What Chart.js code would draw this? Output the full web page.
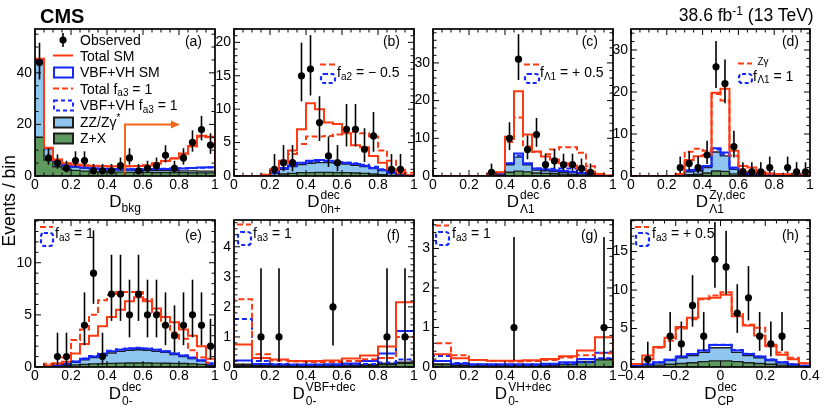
<!DOCTYPE html>
<html><head><meta charset="utf-8">
<script src="https://cdn.jsdelivr.net/npm/chart.js@4.4.1/dist/chart.umd.min.js"></script>
<style>
html,body{margin:0;padding:0;background:#fff}
body{width:830px;height:412px;position:relative;overflow:hidden;font-family:"Liberation Sans",Arial,Helvetica,sans-serif;color:#000}
canvas{position:absolute}
.tx{position:absolute;white-space:pre;z-index:5;font-family:"Liberation Sans",Arial,sans-serif}
</style></head><body>
<script>
// ---------------- DATA ----------------
// (a) D_bkg : 20 bins in [0,1]
const aObs    = [44,7,5,3,6,6,2,2,2,4,7,2,3,4,8,3,7,13,18,12];
const aZX     = [15,6.2,3.6,2.6,2.2,1.9,1.7,1.6,1.5,1.5,1.4,1.4,1.4,1.3,1.3,1.3,1.3,1.2,1.2,1.2];
const aZZ     = [44.8,10.6,5.8,4.1,3.5,3.1,2.8,2.6,2.5,2.4,2.3,2.2,2.2,2.1,2.1,2.0,2.0,2.0,1.9,1.9];
const aVBF    = [45.0,10.8,6.0,4.3,3.7,3.3,3.0,2.8,2.7,2.6,2.6,2.6,2.6,2.7,2.7,2.8,2.9,3.1,3.3,3.4];
const aTot    = [45.5,11.0,6.4,4.9,4.5,4.2,4.0,3.9,3.8,3.8,3.8,3.9,4.1,4.8,5.8,6.8,8.6,11.6,15.6,15.2];
const aTotAlt = [45.4,10.9,6.3,4.8,4.4,4.1,3.9,3.8,3.7,3.7,3.8,3.9,4.2,4.9,5.9,6.9,8.7,11.4,15.2,15.0];
const aVBFAlt = [45.0,10.8,6.0,4.3,3.7,3.3,3.0,2.8,2.7,2.6,2.6,2.6,2.7,2.8,2.8,2.9,3.0,3.1,3.2,3.3];
const aCutArrow = [0.5, 20, 0.805];
// (b) D^dec_0h+
const bObs    = [0,0,0,0,1,2,2,15,16,8,3,2,7,7,4,6,0,1,1,0];
const bZX     = [0,0,0,0,0.1,0.3,0.4,0.5,0.5,0.55,0.55,0.5,0.5,0.45,0.4,0.3,0.2,0.1,0.05,0];
const bZZ     = [0,0,0,0.02,0.4,1.0,1.4,1.7,1.9,2.0,2.0,1.9,1.8,1.6,1.4,1.1,0.8,0.45,0.2,0.05];
const bVBF    = [0,0,0,0.03,0.5,1.2,1.6,2.0,2.3,2.4,2.3,2.1,2.0,1.8,1.55,1.2,0.9,0.5,0.22,0.06];
const bTot    = [0,0,0,0.2,1.0,2.3,3.8,7.0,10.9,10.0,8.0,7.8,6.4,4.6,4.3,3.0,2.0,1.0,0.4,0.1];
const bTotAlt = [0,0,0,0.2,0.9,2.0,3.3,4.8,5.9,5.9,6.0,6.2,6.5,6.6,6.4,5.9,3.8,2.3,1.2,0.5];
const bVBFAlt = [0,0,0,0.03,0.45,1.1,1.5,1.9,2.1,2.2,2.2,2.1,2.0,1.9,1.7,1.4,1.0,0.6,0.3,0.08];
// (c) D^dec_Lambda1
const cObs    = [0,0,0,0,0,0,1,0,10,31,7,11,3,4,3,3,2,1,0,0];
const cZX     = [0,0,0,0,0,0,0.1,0.3,1.0,1.3,1.1,0.8,0.7,0.6,0.5,0.4,0.3,0.15,0.05,0];
const cZZ     = [0,0,0,0,0,0,0.2,0.6,3.0,5.0,3.0,1.6,1.4,1.2,1.0,0.9,0.7,0.4,0.15,0.02];
const cVBF    = [0,0,0,0,0,0,0.25,0.7,3.4,6.0,3.4,2.0,1.7,1.5,1.3,1.1,0.8,0.45,0.18,0.03];
const cTot    = [0,0,0,0,0,0,0.6,1.0,10.4,22.5,11.0,6.5,5.2,4.4,3.4,2.8,2.0,1.2,0.5,0.1];
const cTotAlt = [0,0,0,0,0,0,0.5,0.9,9.0,15.5,7.8,6.4,5.8,7.0,7.6,7.6,6.2,2.6,0.6,0.1];
const cVBFAlt = [0,0,0,0,0,0,0.25,0.7,3.3,5.4,3.2,2.0,1.8,1.9,2.0,2.0,1.6,0.6,0.2,0.03];
// (d) D^{Zgamma,dec}_Lambda1
const dObs    = [0,0,0,0,0,2,3,2,5,26,22,7,1,1,1,2,0,2,1,1];
const dZX     = [0,0,0,0,0,0.1,0.3,0.4,0.7,1.2,1.1,0.5,0.3,0.2,0.15,0.1,0.1,0.1,0.1,0.05];
const dZZ     = [0,0,0,0,0,0.2,1.0,1.2,2.0,5.7,4.8,1.6,0.7,0.5,0.35,0.3,0.25,0.2,0.2,0.1];
const dVBF    = [0,0,0,0,0,0.25,1.3,1.5,2.4,6.6,5.6,2.0,0.9,0.6,0.45,0.35,0.3,0.25,0.22,0.12];
const dTot    = [0,0,0,0,0,0.5,3.8,4.7,5.0,19.8,20.8,6.0,2.4,2.0,1.0,0.6,0.5,0.4,0.3,0.2];
const dTotAlt = [0,0,0,0,0,0.5,5.8,6.5,6.0,19.5,18.0,4.8,1.6,1.1,0.8,0.5,0.4,0.35,0.3,0.2];
const dVBFAlt = [0,0,0,0,0,0.25,1.4,1.6,2.3,6.3,5.2,1.8,0.8,0.55,0.4,0.33,0.28,0.23,0.2,0.1];
// (e) D^dec_0-
const eObs    = [0,0,1,1,0,4,9,1,7,7,5,7,5,5,4,3,4,5,4,2];
const eZX     = [0,0.05,0.1,0.15,0.2,0.25,0.3,0.32,0.35,0.37,0.38,0.38,0.38,0.37,0.36,0.35,0.33,0.3,0.25,0.15];
const eZZ     = [0,0.05,0.15,0.25,0.45,0.7,0.9,1.1,1.35,1.5,1.6,1.65,1.6,1.5,1.4,1.2,1.0,0.8,0.6,0.3];
const eVBF    = [0,0.06,0.17,0.3,0.52,0.8,1.0,1.25,1.5,1.65,1.75,1.8,1.75,1.65,1.5,1.3,1.1,0.9,0.65,0.35];
const eTot    = [0,0.15,0.3,0.5,1.3,2.2,3.0,3.9,4.8,5.5,6.3,6.7,6.3,5.6,4.8,4.3,3.6,3.0,2.0,0.8];
const eTotAlt = [0,0.3,0.35,0.9,2.6,3.6,5.0,6.4,6.9,7.2,7.2,7.2,6.5,5.2,4.1,3.3,2.7,1.6,0.9,0.4];
const eVBFAlt = [0,0.06,0.17,0.3,0.52,0.82,1.05,1.3,1.55,1.7,1.8,1.85,1.78,1.65,1.5,1.3,1.1,0.85,0.6,0.3];
// (f) D^{VBF+dec}_0- : 10 bins
const fObs    = [0,1,1,0,0,2,0,0,1,1];
const fZX     = [0.05,0.03,0.03,0.03,0.03,0.03,0.04,0.05,0.08,0.12];
const fZZ     = [0.09,0.05,0.05,0.05,0.05,0.05,0.06,0.08,0.12,0.16];
const fVBF    = [0.22,0.1,0.08,0.08,0.08,0.09,0.12,0.2,0.45,1.2];
const fTot    = [0.75,0.3,0.25,0.2,0.2,0.22,0.28,0.38,0.68,2.15];
const fTotAlt = [2.25,0.42,0.22,0.18,0.17,0.17,0.2,0.26,0.3,1.0];
const fVBFAlt = [1.6,0.2,0.1,0.07,0.07,0.07,0.08,0.1,0.15,0.25];
// (g) D^{VH+dec}_0- : 10 bins
const gObs    = [0,0,0,0,1,0,0,0,0,1];
const gZX     = [0.06,0.04,0.03,0.03,0.03,0.03,0.04,0.06,0.12,0.18];
const gZZ     = [0.08,0.05,0.04,0.04,0.04,0.04,0.05,0.07,0.14,0.2];
const gVBF    = [0.15,0.08,0.07,0.07,0.07,0.07,0.08,0.12,0.2,0.36];
const gTot    = [0.32,0.22,0.18,0.16,0.16,0.17,0.2,0.27,0.42,0.75];
const gTotAlt = [0.6,0.3,0.18,0.15,0.14,0.15,0.18,0.24,0.3,0.35];
const gVBFAlt = [0.28,0.1,0.06,0.05,0.05,0.05,0.06,0.08,0.12,0.22];
// (h) D^dec_CP : 16 bins in [-0.4,0.4]
const hObs    = [0,1,0,4,3,8,4,14,13,7,9,4,3,4,0,0];
const hZX     = [0.05,0.15,0.25,0.35,0.45,0.55,0.7,0.8,0.8,0.7,0.55,0.45,0.35,0.25,0.15,0.05];
const hZZ     = [0.15,0.3,0.55,0.85,1.2,1.5,1.9,2.5,2.5,1.9,1.5,1.2,0.85,0.55,0.3,0.15];
const hVBF    = [0.17,0.35,0.62,0.95,1.35,1.7,2.15,2.85,2.85,2.15,1.7,1.35,0.95,0.62,0.35,0.17];
const hTot    = [0.4,1.5,2.6,3.8,5.2,6.4,8.9,9.0,9.4,6.6,5.4,4.1,2.7,1.6,1.0,0.5];
const hTotAlt = [0.4,1.0,2.5,3.4,5.0,6.2,8.8,9.3,9.7,6.9,5.5,5.1,2.9,1.9,1.2,0.5];
const hVBFAlt = [0.17,0.35,0.62,0.95,1.35,1.7,2.15,2.9,2.9,2.2,1.72,1.37,0.96,0.63,0.36,0.17];

// tick values / labels
const xTicks01 = [0,0.2,0.4,0.6,0.8,1];
const xLabels01 = ['0','0.2','0.4','0.6','0.8','1'];
const xTicksCP = [-0.4,-0.2,0,0.2,0.4];
const xLabelsCP = ['\u22120.4','\u22120.2','0','0.2','0.4'];
const yTicksA = [0,20,40], yTicksB = [0,5,10,15,20], yTicksC = [0,10,20,30], yTicksD = [0,10,20,30];
const yTicksE = [0,5,10], yTicksF = [0,1,2,3,4], yTicksG = [0,1,2,3], yTicksH = [0,5,10,15];

// ---------------- STYLE ----------------
const FONT = '"Liberation Sans", Arial, sans-serif';
const RED='#ff3a12', BLUE='#1428ff', LBLUE='#8ec6f0', GREEN='#5e9a5e', EDGE='#1e1e1e', ORANGE='#f4661b';

const panels = [
 {left:35, top:29, w:180, h:147, xMin:0, xMax:1, yMax:57,   xT:xTicks01, xL:xLabels01, yT:yTicksA, xMinor:0.05, yMinor:5,
  obs:aObs, zx:aZX, zz:aZZ, vbf:aVBF, tot:aTot, totAlt:aTotAlt, vbfAlt:aVBFAlt, arrow:aCutArrow},
 {left:234, top:29, w:180, h:147, xMin:0, xMax:1, yMax:22,  xT:xTicks01, xL:xLabels01, yT:yTicksB, xMinor:0.05, yMinor:1,
  obs:bObs, zx:bZX, zz:bZZ, vbf:bVBF, tot:bTot, totAlt:bTotAlt, vbfAlt:bVBFAlt},
 {left:433, top:29, w:180, h:147, xMin:0, xMax:1, yMax:39,  xT:xTicks01, xL:xLabels01, yT:yTicksC, xMinor:0.05, yMinor:2,
  obs:cObs, zx:cZX, zz:cZZ, vbf:cVBF, tot:cTot, totAlt:cTotAlt, vbfAlt:cVBFAlt},
 {left:631, top:29, w:179, h:147, xMin:0, xMax:1, yMax:35,  xT:xTicks01, xL:xLabels01, yT:yTicksD, xMinor:0.05, yMinor:2,
  obs:dObs, zx:dZX, zz:dZZ, vbf:dVBF, tot:dTot, totAlt:dTotAlt, vbfAlt:dVBFAlt},
 {left:35, top:220, w:180, h:147, xMin:0, xMax:1, yMax:14.1, xT:xTicks01, xL:xLabels01, yT:yTicksE, xMinor:0.05, yMinor:1,
  obs:eObs, zx:eZX, zz:eZZ, vbf:eVBF, tot:eTot, totAlt:eTotAlt, vbfAlt:eVBFAlt},
 {left:234, top:220, w:180, h:147, xMin:0, xMax:1, yMax:4.89, xT:xTicks01, xL:xLabels01, yT:yTicksF, xMinor:0.05, yMinor:0.2,
  obs:fObs, zx:fZX, zz:fZZ, vbf:fVBF, tot:fTot, totAlt:fTotAlt, vbfAlt:fVBFAlt},
 {left:433, top:220, w:180, h:147, xMin:0, xMax:1, yMax:3.72, xT:xTicks01, xL:xLabels01, yT:yTicksG, xMinor:0.05, yMinor:0.2,
  obs:gObs, zx:gZX, zz:gZZ, vbf:gVBF, tot:gTot, totAlt:gTotAlt, vbfAlt:gVBFAlt},
 {left:631, top:220, w:179, h:147, xMin:-0.4, xMax:0.4, yMax:19.1, xT:xTicksCP, xL:xLabelsCP, yT:yTicksH, xMinor:0.05, yMinor:1,
  obs:hObs, zx:hZX, zz:hZZ, vbf:hVBF, tot:hTot, totAlt:hTotAlt, vbfAlt:hVBFAlt}
];

function garwood(n){
  const lo = n*Math.pow(1-1/(9*n)-1/(3*Math.sqrt(n)),3);
  const m = n+1;
  const hi = m*Math.pow(1-1/(9*m)+1/(3*Math.sqrt(m)),3);
  return [lo,hi];
}

function makePanel(p){
  const cv=document.createElement('canvas');
  const W=p.w+48, H=p.h+28;
  cv.width=W; cv.height=H;
  cv.style.left=(p.left-34)+'px'; cv.style.top=(p.top-8)+'px';
  cv.style.width=W+'px'; cv.style.height=H+'px';
  document.body.appendChild(cv);
  const n=p.obs.length, bw=(p.xMax-p.xMin)/n;
  const edges=[]; for(let i=0;i<=n;i++) edges.push(+(p.xMin+i*bw).toFixed(6));
  const hist=v=>{const pts=[{x:edges[0],y:0}]; v.forEach((y,i)=>{pts.push({x:edges[i],y});pts.push({x:edges[i+1],y});}); pts.push({x:edges[n],y:0}); return pts;};
  const obsPts=[]; p.obs.forEach((c,i)=>{ if(c>0) obsPts.push({x:(edges[i]+edges[i+1])/2, y:c}); });
  const line=(data,color,width,dash,order,fill)=>({data, borderColor:color, borderWidth:width, borderDash:dash||[],
      pointRadius:0, tension:0, order, fill:fill?{target:'origin'}:false, backgroundColor:fill||'rgba(0,0,0,0)'});
  const deco={id:'deco',
    afterDatasetsDraw(chart){
      const {ctx, scales:{x,y}}=chart;
      ctx.save();
      if(p.arrow){
        const [xa,ya,xb]=p.arrow;
        const px=x.getPixelForValue(xa), py0=y.getPixelForValue(0), py1=y.getPixelForValue(ya), px2=x.getPixelForValue(xb);
        ctx.strokeStyle=ORANGE; ctx.fillStyle=ORANGE; ctx.lineWidth=2;
        ctx.beginPath(); ctx.moveTo(px,py0); ctx.lineTo(px,py1); ctx.lineTo(px2-7,py1); ctx.stroke();
        ctx.beginPath(); ctx.moveTo(px2,py1); ctx.lineTo(px2-9,py1-4); ctx.lineTo(px2-9,py1+4); ctx.closePath(); ctx.fill();
      }
      ctx.strokeStyle='#000'; ctx.lineWidth=1.6;
      obsPts.forEach(pt=>{
        const [lo,hi]=garwood(pt.y);
        const px=x.getPixelForValue(pt.x);
        ctx.beginPath(); ctx.moveTo(px,y.getPixelForValue(lo)); ctx.lineTo(px,y.getPixelForValue(Math.min(hi,p.yMax))); ctx.stroke();
      });
      ctx.restore();
    },
    afterDraw(chart){
      const {ctx, chartArea:ca, scales:{x,y}}=chart;
      ctx.save(); ctx.strokeStyle='#000'; ctx.lineWidth=1;
      const majStep=arr=>arr[1]-arr[0];
      const tick=(scale,minor,major,isX)=>{
        const k0=Math.ceil(scale.min/minor-1e-6), k1=Math.floor(scale.max/minor+1e-6);
        for(let k=k0;k<=k1;k++){
          const v=k*minor; const r=v/major; const isMaj=Math.abs(r-Math.round(r))<1e-6;
          const len=isMaj?6:3.5; const pix=scale.getPixelForValue(v);
          ctx.beginPath();
          if(isX){ ctx.moveTo(pix,ca.bottom); ctx.lineTo(pix,ca.bottom-len); ctx.moveTo(pix,ca.top); ctx.lineTo(pix,ca.top+len); }
          else { ctx.moveTo(ca.left,pix); ctx.lineTo(ca.left+len,pix); ctx.moveTo(ca.right,pix); ctx.lineTo(ca.right-len,pix); }
          ctx.stroke();
        }
      };
      tick(x,p.xMinor,majStep(p.xT),true);
      tick(y,p.yMinor,majStep(p.yT),false);
      ctx.lineWidth=1.7; ctx.strokeRect(ca.left,ca.top,ca.width,ca.height);
      ctx.restore();
    }
  };
  new Chart(cv,{type:'line',
    data:{datasets:[
      {data:obsPts, showLine:false, pointRadius:3.6, pointHoverRadius:3.6, pointBackgroundColor:'#000', pointBorderColor:'#000', pointBorderWidth:0, order:0},
      line(hist(p.tot), RED, 2, null, 1),
      line(hist(p.totAlt), RED, 2, [6,3], 2),
      line(hist(p.vbf), BLUE, 2, null, 3),
      line(hist(p.vbfAlt), BLUE, 2, [5,3], 4),
      line(hist(p.zx), EDGE, 1.4, null, 5, GREEN),
      line(hist(p.zz), EDGE, 1.4, null, 6, LBLUE)
    ]},
    options:{responsive:false, animation:false, events:[],
      layout:{padding:{top:8,right:14,bottom:0,left:0}},
      plugins:{legend:{display:false}, tooltip:{enabled:false}},
      scales:{
        x:{type:'linear', min:p.xMin, max:p.xMax, grid:{display:false,drawTicks:false}, border:{display:false},
           afterBuildTicks:s=>{s.ticks=p.xT.map(v=>({value:v}));},
           ticks:{autoSkip:false,maxRotation:0,minRotation:0,padding:1,color:'#000',font:{family:FONT,size:14},callback:(v,i)=>p.xL[i]},
           afterFit:s=>{s.height=20; s.paddingLeft=0; s.paddingRight=0;}},
        y:{type:'linear', min:0, max:p.yMax, grid:{display:false,drawTicks:false}, border:{display:false},
           afterBuildTicks:s=>{s.ticks=p.yT.map(v=>({value:v}));},
           ticks:{autoSkip:false,padding:3,color:'#000',font:{family:FONT,size:14},callback:(v,i)=>String(p.yT[i])},
           afterFit:s=>{s.width=34; s.paddingTop=0; s.paddingBottom=0;}}
      }},
    plugins:[deco]
  });
}
panels.forEach(makePanel);

// ---------------- legend symbols overlay ----------------
const ov=document.createElement('canvas');
const dpr=window.devicePixelRatio||1;
ov.width=830*dpr; ov.height=412*dpr; ov.style.left='0px'; ov.style.top='0px'; ov.style.width='830px'; ov.style.height='412px'; ov.style.zIndex=3;
document.body.appendChild(ov);
const g=ov.getContext('2d'); g.scale(dpr,dpr);
function sLine(x1,x2,y,c,dash,w){g.save();g.strokeStyle=c;g.lineWidth=w||2;g.setLineDash(dash||[]);g.beginPath();g.moveTo(x1,y);g.lineTo(x2,y);g.stroke();g.restore();}
function sBox(x,y,w,h,stroke,fill,dash,lw,r){g.save();g.lineWidth=lw||2;g.strokeStyle=stroke;g.setLineDash(dash||[]);
  g.beginPath(); if(r){g.roundRect(x,y,w,h,r);} else g.rect(x,y,w,h);
  if(fill){g.fillStyle=fill;g.fill();} g.stroke(); g.restore();}
// panel (a) legend
g.fillStyle='#000'; g.beginPath(); g.arc(63,40,3.6,0,Math.PI*2); g.fill();
g.save(); g.strokeStyle='#000'; g.lineWidth=1.6; g.beginPath(); g.moveTo(63,33); g.lineTo(63,47); g.stroke(); g.restore();
sLine(53,73,55.5,RED,null,2);
sBox(54,67.5,19,10,BLUE,'#fff',null,2);
sLine(53,73,88.5,RED,[6,3],2);
sBox(54,100.5,19,10,BLUE,'#fff',[4,3],2);
sBox(54,117.5,19,10,EDGE,LBLUE,null,2);
sBox(54,133.5,19,10,EDGE,GREEN,null,2);
// small legends
const small=[[320,335,64.5,74,9],[524,539,64.5,74,9],[738,752,63.5,74,9],[40,53,227,233,13],[237,251,224.5,232,13],[435,449,225.5,232,13],[635,649,227,233,13]];
small.forEach(([x1,x2,yl,yb,hb])=>{ sLine(x1,x2,yl,RED,[6,3],2); sBox(x1+1,yb,x2-x1-1,hb,BLUE,null,[4,2.5],2.2,3); });

// ---------------- text ----------------
const mctx=document.createElement('canvas').getContext('2d');
function tw(t,fs,b){mctx.font=(b?'bold ':'')+fs+'px "Liberation Sans"';return mctx.measureText(t).width;}
function put(x,base,t,fs,b){const d=document.createElement('div');d.className='tx';d.textContent=t;d.style.fontSize=fs+'px';d.style.lineHeight=fs+'px';
  if(b)d.style.fontWeight='bold';d.style.left=x+'px';d.style.top=(base-0.8465*fs)+'px';document.body.appendChild(d);return d;}
function rich(x,base,segs,align){
  const ws=segs.map(s=>s.t!==undefined?tw(s.t,s.fs,s.b):Math.max(tw(s.sup||'',s.fs),tw(s.sub||'',s.fs))+(s.pad||0));
  const tot=ws.reduce((a,b)=>a+b,0);
  let cx=align==='center'?x-tot/2:align==='right'?x-tot:x;
  segs.forEach((s,i)=>{ if(s.t!==undefined) put(cx,base+(s.dy||0),s.t,s.fs,s.b);
    else { if(s.sup) put(cx+(s.pad||0),base-s.up,s.sup,s.fs); if(s.sub) put(cx+(s.pad||0),base+s.dn,s.sub,s.fs);} cx+=ws[i]; });
}
// header
put(40,22.5,'CMS',20,true);
rich(814,21.7,[{t:'38.6 fb',fs:17.5},{t:'-1',fs:12,dy:-7},{t:' (13 TeV)',fs:17.5}],'right');
// y title
(function(){const fs=17.5,t='Events / bin',w=tw(t,fs);const d=put(0,0,t,fs);d.style.left=(10-w/2)+'px';d.style.top=(201-fs/2)+'px';d.style.transform='rotate(-90deg)';d.style.transformOrigin='50% 50%';})();
// axis titles
const DT=(c,base,sup,sub)=>rich(c,base,[{t:'D',fs:17},{sup,sub,fs:12,up:8,dn:6,pad:1}],'center');
rich(125,207,[{t:'D',fs:17},{t:'bkg',fs:12,dy:5}],'center');
DT(324,207,'dec','0h+');
DT(523,207,'dec','\u039b1');
DT(720.5,207,'Z\u03b3,dec','\u039b1');
DT(125,399,'dec','0-');
DT(324,399,'VBF+dec','0-');
DT(523,399,'VH+dec','0-');
DT(720.5,399,'dec','CP');
// panel tags
[['(a)',202,46],['(b)',400,46],['(c)',598,46],['(d)',799,46],['(e)',202,240],['(f)',400,240],['(g)',598,240],['(h)',799,240]]
  .forEach(([t,x,b])=>rich(x,b,[{t,fs:14}],'right'));
// legend (a)
put(80,45,'Observed',14);
put(80,60.5,'Total SM',14);
put(80,77,'VBF+VH SM',14);
rich(80,93.5,[{t:'Total f',fs:14},{t:'a3',fs:10,dy:3},{t:' = 1',fs:14}]);
rich(80,110,[{t:'VBF+VH f',fs:14},{t:'a3',fs:10,dy:3},{t:' = 1',fs:14}]);
rich(80,127,[{t:'ZZ/Z\u03b3',fs:14},{t:'*',fs:10,dy:-6}]);
put(80,143,'Z+X',14);
// small legends text
rich(337,77,[{t:'f',fs:14},{t:'a2',fs:10,dy:3},{t:' = \u2212 0.5',fs:14}]);
rich(540,77,[{t:'f',fs:14},{t:'\u039b1',fs:10,dy:3},{t:' = + 0.5',fs:14}]);
rich(753,81,[{t:'f',fs:14},{sup:'Z\u03b3',sub:'\u039b1',fs:10,up:16,dn:2,pad:0.5},{t:' = 1',fs:14}]);
rich(55,238,[{t:'f',fs:14},{t:'a3',fs:10,dy:3},{t:' = 1',fs:14}]);
rich(253,238,[{t:'f',fs:14},{t:'a3',fs:10,dy:3},{t:' = 1',fs:14}]);
rich(452,238,[{t:'f',fs:14},{t:'a3',fs:10,dy:3},{t:' = 1',fs:14}]);
rich(652,238,[{t:'f',fs:14},{t:'a3',fs:10,dy:3},{t:' = + 0.5',fs:14}]);
</script></body></html>
